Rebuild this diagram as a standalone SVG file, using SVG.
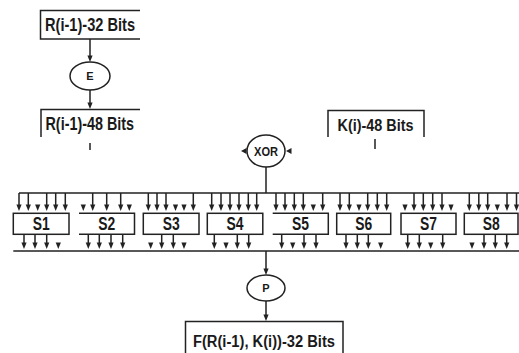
<svg xmlns="http://www.w3.org/2000/svg" xmlns:xlink="http://www.w3.org/1999/xlink" width="519" height="353" viewBox="0 0 519 353">
<style>
.ln{fill:none;stroke:#222;stroke-width:1.5}
.bx{fill:#fff;stroke:#222;stroke-width:1.5}
.ah{fill:#222}
.t{font-family:"Liberation Sans",Arial,sans-serif;font-weight:bold;fill:#1a1a1a}
.c{font-family:"Liberation Sans",Arial,sans-serif;font-weight:bold;fill:#1a1a1a;text-anchor:middle}
</style>
<defs>
<path id="d" class="ah" d="M-2.6 -6.5 L2.6 -6.5 L0 0Z"/>
<path id="l" class="ah" d="M0 0 L5.5 -3 L5.5 3Z"/>
</defs>
<rect width="519" height="353" fill="#fff"/>

<g id="r32">
<path class="ln" d="M140 10.5 H40.5 V39 H140"/>
<text class="t" x="45" y="31" font-size="18" textLength="90" lengthAdjust="spacingAndGlyphs">R(i-1)-32 Bits</text>
</g>
<g id="E">
<ellipse class="ln" cx="90" cy="76" rx="20" ry="14"/>
<text class="c" x="90" y="80" font-size="11">E</text>
</g>
<g id="r48">
<path class="ln" d="M140 109.5 H41 V137"/>
<text class="t" x="45.5" y="130" font-size="18" textLength="88.5" lengthAdjust="spacingAndGlyphs">R(i-1)-48 Bits</text>
</g>
<g id="k48">
<path class="ln" d="M328 137 V110.5 H424 V137"/>
<text class="t" x="337.5" y="130.5" font-size="17" textLength="76" lengthAdjust="spacingAndGlyphs">K(i)-48 Bits</text>
</g>
<g id="xor">
<ellipse class="ln" cx="266" cy="151" rx="19" ry="16"/>
<text class="c" x="266" y="155.5" font-size="12" textLength="24" lengthAdjust="spacingAndGlyphs">XOR</text>
</g>

<g id="s1"><rect class="bx" x="13.3" y="213.3" width="55.7" height="21"/><text class="c" x="41.2" y="230" font-size="18" textLength="17" lengthAdjust="spacingAndGlyphs">S1</text></g>
<g id="s2"><path class="ln" d="M79 213.3 H134.5 V234.3 H79"/><text class="c" x="106.7" y="230" font-size="18" textLength="17" lengthAdjust="spacingAndGlyphs">S2</text></g>
<g id="s3"><rect class="bx" x="143.3" y="213.3" width="55.7" height="21"/><text class="c" x="171.2" y="230" font-size="18" textLength="17" lengthAdjust="spacingAndGlyphs">S3</text></g>
<g id="s4"><rect class="bx" x="207.3" y="213.3" width="55.5" height="21"/><text class="c" x="235" y="230" font-size="18" textLength="17" lengthAdjust="spacingAndGlyphs">S4</text></g>
<g id="s5"><path class="ln" d="M272.7 213.3 H328.3 V234.3 H272.7"/><text class="c" x="300.5" y="230" font-size="18" textLength="17" lengthAdjust="spacingAndGlyphs">S5</text></g>
<g id="s6"><rect class="bx" x="336.7" y="213.3" width="54" height="21"/><text class="c" x="363.7" y="230" font-size="18" textLength="17" lengthAdjust="spacingAndGlyphs">S6</text></g>
<g id="s7"><rect class="bx" x="401" y="213.3" width="55" height="21"/><text class="c" x="428.5" y="230" font-size="18" textLength="17" lengthAdjust="spacingAndGlyphs">S7</text></g>
<g id="s8"><rect class="bx" x="464.3" y="213.3" width="53.7" height="21"/><text class="c" x="491.2" y="230" font-size="18" textLength="17" lengthAdjust="spacingAndGlyphs">S8</text></g>

<g id="p">
<ellipse class="ln" cx="266" cy="288" rx="19" ry="13"/>
<text class="c" x="266" y="292" font-size="11">P</text>
</g>
<g id="f">
<path class="ln" d="M185.5 353 V321.5 H343 V353"/>
<text class="t" x="193" y="347" font-size="16" textLength="142" lengthAdjust="spacingAndGlyphs">F(R(i-1), K(i))-32 Bits</text>
</g>

<g id="connectors">
<path class="ln" d="M90 39 V56 M90 90 V103 M90 143 V150 M375 139 V149 M266 167 V193 M19 193 H519 M13.3 251 H519 M266 251 V269 M266 301 V315"/>
<use xlink:href="#d" x="90" y="62"/>
<use xlink:href="#d" x="90" y="109"/>
<use xlink:href="#d" x="266" y="275"/>
<use xlink:href="#d" x="266" y="321"/>
<use xlink:href="#l" x="241" y="151"/>
<use xlink:href="#l" x="286" y="151"/>

<path class="ln" d="M19 193 V206 M28.3 193 V206 M46.7 193 V206 M55.7 193 V206 M65.3 193 V206
M92.7 193 V206 M106.7 193 V206 M120.7 193 V206
M148.3 193 V206 M157 193 V206 M166 193 V206 M193.3 193 V206
M211.7 193 V206 M221 193 V206 M230 193 V206 M239 193 V206 M248.3 193 V206 M256.7 193 V206
M276 193 V206 M285 193 V206 M294.3 193 V206 M303.3 193 V206 M322.7 193 V206
M340 193 V206 M349.3 193 V206 M367.7 193 V206 M377.3 193 V206 M386.7 193 V206
M414 193 V206 M423.3 193 V206 M432.7 193 V206 M442 193 V206
M469.3 193 V206 M478.8 193 V206 M487.7 193 V206 M507 193 V206 M516.5 193 V206"/>
<g>
<use xlink:href="#d" x="19" y="211"/><use xlink:href="#d" x="28.3" y="211"/><use xlink:href="#d" x="37.7" y="211"/><use xlink:href="#d" x="46.7" y="211"/><use xlink:href="#d" x="55.7" y="211"/><use xlink:href="#d" x="65.3" y="211"/>
<use xlink:href="#d" x="83.3" y="211"/><use xlink:href="#d" x="92.7" y="211"/><use xlink:href="#d" x="106.7" y="211"/><use xlink:href="#d" x="120.7" y="211"/><use xlink:href="#d" x="129.3" y="211"/>
<use xlink:href="#d" x="148.3" y="211"/><use xlink:href="#d" x="157" y="211"/><use xlink:href="#d" x="166" y="211"/><use xlink:href="#d" x="175.5" y="211"/><use xlink:href="#d" x="184" y="211"/><use xlink:href="#d" x="193.3" y="211"/>
<use xlink:href="#d" x="211.7" y="211"/><use xlink:href="#d" x="221" y="211"/><use xlink:href="#d" x="230" y="211"/><use xlink:href="#d" x="239" y="211"/><use xlink:href="#d" x="248.3" y="211"/><use xlink:href="#d" x="256.7" y="211"/>
<use xlink:href="#d" x="276" y="211"/><use xlink:href="#d" x="285" y="211"/><use xlink:href="#d" x="294.3" y="211"/><use xlink:href="#d" x="303.3" y="211"/><use xlink:href="#d" x="313.3" y="211"/><use xlink:href="#d" x="322.7" y="211"/>
<use xlink:href="#d" x="340" y="211"/><use xlink:href="#d" x="349.3" y="211"/><use xlink:href="#d" x="359" y="211"/><use xlink:href="#d" x="367.7" y="211"/><use xlink:href="#d" x="377.3" y="211"/><use xlink:href="#d" x="386.7" y="211"/>
<use xlink:href="#d" x="405" y="211"/><use xlink:href="#d" x="414" y="211"/><use xlink:href="#d" x="423.3" y="211"/><use xlink:href="#d" x="432.7" y="211"/><use xlink:href="#d" x="442" y="211"/><use xlink:href="#d" x="451" y="211"/>
<use xlink:href="#d" x="469.3" y="211"/><use xlink:href="#d" x="478.8" y="211"/><use xlink:href="#d" x="487.7" y="211"/><use xlink:href="#d" x="497.3" y="211"/><use xlink:href="#d" x="507" y="211"/><use xlink:href="#d" x="516.5" y="211"/>
</g>

<path class="ln" d="M24 234 V244 M35 234 V244 M46.7 234 V244
M88.3 234 V244 M99.3 234 V244 M111 234 V244 M122.7 234 V244
M161.7 234 V244 M173.3 234 V244
M214.3 234 V244 M237.3 234 V244 M248.7 234 V244
M281.7 234 V244 M304 234 V244 M316 234 V244
M346 234 V244 M357.3 234 V244 M368.3 234 V244
M407.7 234 V244 M419.3 234 V244 M442.7 234 V244
M484 234 V244 M495.3 234 V244 M506.7 234 V244"/>
<g>
<use xlink:href="#d" x="24" y="249"/><use xlink:href="#d" x="35" y="249"/><use xlink:href="#d" x="46.7" y="249"/><use xlink:href="#d" x="58.3" y="249"/>
<use xlink:href="#d" x="88.3" y="249"/><use xlink:href="#d" x="99.3" y="249"/><use xlink:href="#d" x="111" y="249"/><use xlink:href="#d" x="122.7" y="249"/>
<use xlink:href="#d" x="150.7" y="249"/><use xlink:href="#d" x="161.7" y="249"/><use xlink:href="#d" x="173.3" y="249"/><use xlink:href="#d" x="184" y="249"/>
<use xlink:href="#d" x="214.3" y="249"/><use xlink:href="#d" x="226" y="249"/><use xlink:href="#d" x="237.3" y="249"/><use xlink:href="#d" x="248.7" y="249"/>
<use xlink:href="#d" x="281.7" y="249"/><use xlink:href="#d" x="292.7" y="249"/><use xlink:href="#d" x="304" y="249"/><use xlink:href="#d" x="316" y="249"/>
<use xlink:href="#d" x="346" y="249"/><use xlink:href="#d" x="357.3" y="249"/><use xlink:href="#d" x="368.3" y="249"/><use xlink:href="#d" x="380.7" y="249"/>
<use xlink:href="#d" x="407.7" y="249"/><use xlink:href="#d" x="419.3" y="249"/><use xlink:href="#d" x="430.7" y="249"/><use xlink:href="#d" x="442.7" y="249"/>
<use xlink:href="#d" x="472" y="249"/><use xlink:href="#d" x="484" y="249"/><use xlink:href="#d" x="495.3" y="249"/><use xlink:href="#d" x="506.7" y="249"/>
</g>
</g>
</svg>
